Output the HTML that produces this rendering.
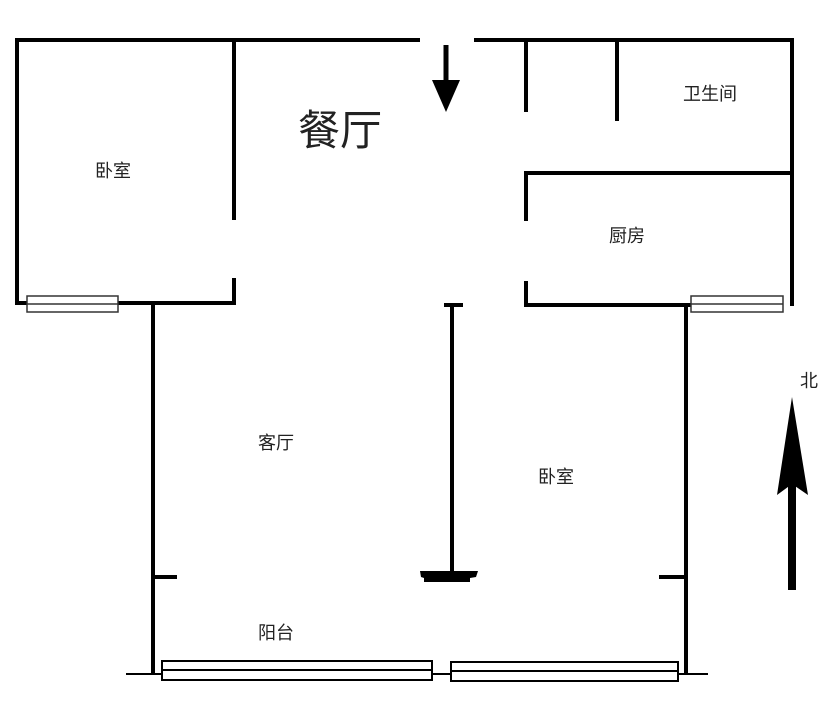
<!DOCTYPE html>
<html><head><meta charset="utf-8"><style>
html,body{margin:0;padding:0;background:#fff;}
svg text{font-family:"Liberation Sans","Noto Sans CJK SC",sans-serif;fill:#222;}
</style></head><body>
<svg width="828" height="716" viewBox="0 0 828 716" xmlns="http://www.w3.org/2000/svg">
<g stroke="#000" stroke-width="4" fill="none" stroke-linecap="square">
<line x1="17" y1="40" x2="418" y2="40"/>
<line x1="476" y1="40" x2="792" y2="40"/>
<line x1="17" y1="40" x2="17" y2="302"/>
<line x1="234" y1="40" x2="234" y2="218"/>
<line x1="234" y1="280" x2="234" y2="302"/>
<line x1="17" y1="303" x2="234" y2="303"/>
<line x1="153" y1="304" x2="153" y2="672"/>
<line x1="526" y1="40" x2="526" y2="110"/>
<line x1="617" y1="40" x2="617" y2="119"/>
<line x1="792" y1="40" x2="792" y2="304"/>
<line x1="526" y1="173" x2="788" y2="173"/>
<line x1="526" y1="173" x2="526" y2="219"/>
<line x1="526" y1="283" x2="526" y2="305"/>
<line x1="526" y1="305" x2="690" y2="305"/>
<line x1="686" y1="305" x2="686" y2="672"/>
<line x1="452" y1="305" x2="452" y2="573"/>
<line x1="446" y1="305" x2="461" y2="305"/>
<line x1="153" y1="577" x2="175" y2="577"/>
<line x1="661" y1="577" x2="686" y2="577"/>
</g>
<path d="M420 571 L478 571 L476 577 L470 578 L470 582 L424 582 L424 578 L421 577 Z" fill="#000"/>
<line x1="126" y1="674" x2="708" y2="674" stroke="#000" stroke-width="2"/>
<g stroke="#333" stroke-width="1.5" fill="#fff">
<rect x="27" y="296" width="91" height="16"/>
<line x1="27" y1="304" x2="118" y2="304"/>
<rect x="691" y="296" width="92" height="16"/>
<line x1="691" y1="304" x2="783" y2="304"/>
</g>
<g stroke="#000" stroke-width="2" fill="#fff">
<rect x="162" y="661" width="270" height="19"/>
<line x1="162" y1="670" x2="432" y2="670"/>
<rect x="451" y="662" width="227" height="19"/>
<line x1="451" y1="671" x2="678" y2="671"/>
</g>
<line x1="446" y1="45" x2="446" y2="88" stroke="#000" stroke-width="5"/>
<polygon points="432,80 460,80 446,112" fill="#000"/>
<line x1="792" y1="480" x2="792" y2="590" stroke="#000" stroke-width="8"/>
<polygon points="792,397 808,495 792,484 777,495" fill="#000"/>
<text x="113" y="177" font-size="18" text-anchor="middle">卧室</text>
<text x="340" y="145" font-size="42" text-anchor="middle">餐厅</text>
<text x="710" y="100" font-size="18" text-anchor="middle">卫生间</text>
<text x="627" y="242" font-size="18" text-anchor="middle">厨房</text>
<text x="276" y="449" font-size="18" text-anchor="middle">客厅</text>
<text x="556" y="483" font-size="18" text-anchor="middle">卧室</text>
<text x="276" y="639" font-size="18" text-anchor="middle">阳台</text>
<text x="809" y="387" font-size="18" text-anchor="middle">北</text>
</svg>
</body></html>
